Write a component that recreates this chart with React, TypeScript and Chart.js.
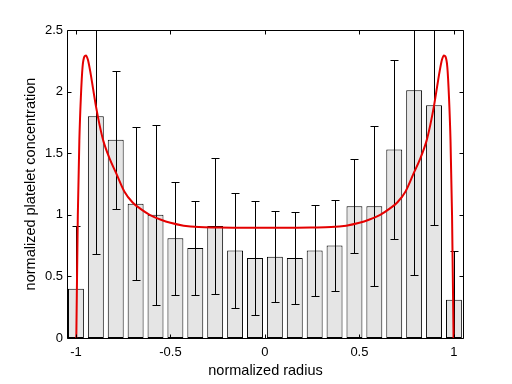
import React, { useEffect, useRef } from "react";
import { Chart, registerables } from "chart.js";

Chart.register(...registerables);

// ---- data ----
const binCenters = [-1, -0.8947, -0.7895, -0.6842, -0.5789, -0.4737, -0.3684, -0.2632, -0.1579, -0.0526, 0.0526, 0.1579, 0.2632, 0.3684, 0.4737, 0.5789, 0.6842, 0.7895, 0.8947, 1];
const meanConc = [0.40, 1.80, 1.61, 1.09, 1.00, 0.81, 0.73, 0.91, 0.71, 0.65, 0.66, 0.65, 0.71, 0.75, 1.07, 1.07, 1.53, 2.01, 1.89, 0.31];
const stdConc = [0.51, 1.12, 0.56, 0.62, 0.73, 0.46, 0.38, 0.55, 0.47, 0.46, 0.37, 0.37, 0.37, 0.37, 0.38, 0.65, 0.73, 1.50, 0.97, 0.40];

const modelR = [-0.998, -0.99, -0.982, -0.974, -0.965, -0.955, -0.947, -0.937, -0.925, -0.91, -0.894, -0.875, -0.855, -0.82, -0.785, -0.744, -0.7, -0.66, -0.61, -0.55, -0.5, -0.43, -0.35, -0.25, -0.12, 0, 0.12, 0.25, 0.35, 0.43, 0.5, 0.55, 0.61, 0.66, 0.7, 0.744, 0.785, 0.82, 0.855, 0.875, 0.894, 0.91, 0.925, 0.937, 0.947, 0.955, 0.965, 0.974, 0.982, 0.99, 0.998];
const modelC = [0, 1.0, 1.6, 1.95, 2.2, 2.285, 2.294, 2.26, 2.17, 2.03, 1.88, 1.73, 1.6, 1.45, 1.33, 1.19, 1.1, 1.05, 1.0, 0.96, 0.935, 0.912, 0.9, 0.897, 0.895, 0.895, 0.895, 0.897, 0.9, 0.912, 0.935, 0.96, 1.0, 1.05, 1.1, 1.19, 1.33, 1.45, 1.6, 1.73, 1.88, 2.03, 2.17, 2.26, 2.294, 2.285, 2.2, 1.95, 1.6, 1.0, 0];

const xTickValues = [-1, -0.5, 0, 0.5, 1];
const yTickValues = [0, 0.5, 1, 1.5, 2, 2.5];
const xLabel = "normalized radius";
const yLabel = "normalized platelet concentration";

const FONT = "'Liberation Sans', Arial, Helvetica, sans-serif";

const framePlugin = {
  id: "frameAndErrors",
  afterDatasetDraw(chart: any, args: any) {
    if (args.index !== 0) return;
    const ctx = chart.ctx;
    const xs = chart.scales.x;
    const ys = chart.scales.y;
    const a = chart.chartArea;
    ctx.save();
    ctx.beginPath();
    ctx.rect(a.left, a.top, a.right - a.left, a.bottom - a.top);
    ctx.clip();
    ctx.strokeStyle = "#000";
    ctx.lineWidth = 1;
    ctx.beginPath();
    binCenters.forEach((c, i) => {
      const px = Math.round(xs.getPixelForValue(c)) + 0.5;
      const top = Math.round(ys.getPixelForValue(meanConc[i] + stdConc[i])) + 0.5;
      const bot = Math.round(ys.getPixelForValue(meanConc[i] - stdConc[i])) + 0.5;
      ctx.moveTo(px, top);
      ctx.lineTo(px, bot);
      ctx.moveTo(px - 4, top);
      ctx.lineTo(px + 4, top);
      ctx.moveTo(px - 4, bot);
      ctx.lineTo(px + 4, bot);
    });
    ctx.stroke();
    ctx.restore();
  },
  afterDraw(chart: any) {
    const ctx = chart.ctx;
    const xs = chart.scales.x;
    const ys = chart.scales.y;
    const a = chart.chartArea;
    const L = Math.round(a.left) - 0.5;
    const R = Math.round(a.right) + 0.5;
    const T = Math.round(a.top) + 0.5;
    const B = Math.round(a.bottom) + 0.5;
    ctx.save();
    ctx.strokeStyle = "#000";
    ctx.lineWidth = 1;
    ctx.beginPath();
    ctx.rect(L, T, R - L, B - T);
    const tl = 4;
    xTickValues.forEach((v) => {
      const px = Math.round(xs.getPixelForValue(v)) + 0.5;
      ctx.moveTo(px, B);
      ctx.lineTo(px, B - tl);
      ctx.moveTo(px, T);
      ctx.lineTo(px, T + tl);
    });
    yTickValues.forEach((v) => {
      const py = Math.round(ys.getPixelForValue(v)) + 0.5;
      ctx.moveTo(L, py);
      ctx.lineTo(L + tl, py);
      ctx.moveTo(R, py);
      ctx.lineTo(R - tl, py);
    });
    ctx.stroke();
    ctx.restore();
  },
};

export default function App() {
  const ref = useRef<HTMLCanvasElement | null>(null);
  useEffect(() => {
    if (!ref.current) return;
    const chart = new Chart(ref.current, {
      type: "bar",
      data: {
        datasets: [
          {
            type: "bar",
            data: binCenters.map((c, i) => ({ x: c, y: meanConc[i] })),
            backgroundColor: "rgb(229,229,229)",
            borderColor: "#000",
            borderWidth: 1,
            borderSkipped: false,
            barPercentage: 1,
            categoryPercentage: 0.8,
            order: 2,
          } as any,
          {
            type: "line",
            data: modelR.map((r, i) => ({ x: r, y: modelC[i] })),
            borderColor: "rgb(228,0,0)",
            borderWidth: 2,
            pointRadius: 0,
            fill: false,
            cubicInterpolationMode: "monotone",
            order: 1,
          } as any,
        ],
      },
      options: {
        responsive: false,
        animation: false,
        events: [],
        layout: { padding: { left: 0, top: 30, right: 49, bottom: 0 } },
        plugins: { legend: { display: false }, tooltip: { enabled: false } },
        scales: {
          x: {
            type: "linear",
            min: -1.042,
            max: 1.048,
            offset: false,
            grid: { display: false, drawTicks: false },
            border: { display: false },
            afterBuildTicks: (s: any) => {
              s.ticks = xTickValues.map((v) => ({ value: v }));
            },
            afterFit: (s: any) => {
              s.height = 46;
            },
            ticks: {
              padding: 7,
              color: "#000",
              font: { family: FONT, size: 13 },
              maxRotation: 0,
              autoSkip: false,
              callback: (v: any) => String(v),
            },
            title: {
              display: true,
              text: xLabel,
              color: "#000",
              font: { family: FONT, size: 14.5 },
              padding: { top: 0, bottom: 4 },
            },
          },
          y: {
            type: "linear",
            min: 0,
            max: 2.5,
            grid: { display: false, drawTicks: false },
            border: { display: false },
            afterBuildTicks: (s: any) => {
              s.ticks = yTickValues.map((v) => ({ value: v }));
            },
            afterFit: (s: any) => {
              s.width = 68;
            },
            ticks: {
              padding: 5,
              color: "#000",
              font: { family: FONT, size: 13 },
              autoSkip: false,
              callback: (v: any) => String(v),
            },
            title: {
              display: true,
              text: yLabel,
              color: "#000",
              font: { family: FONT, size: 14.5 },
              padding: { top: 22, bottom: 0 },
            },
          },
        },
      },
      plugins: [framePlugin],
    } as any);
    return () => chart.destroy();
  }, []);
  return (
    <div style={{ position: "absolute", left: 0, top: 0, width: 512, height: 384, background: "#fff" }}>
      <canvas ref={ref} width={512} height={384} style={{ display: "block" }} />
    </div>
  );
}
